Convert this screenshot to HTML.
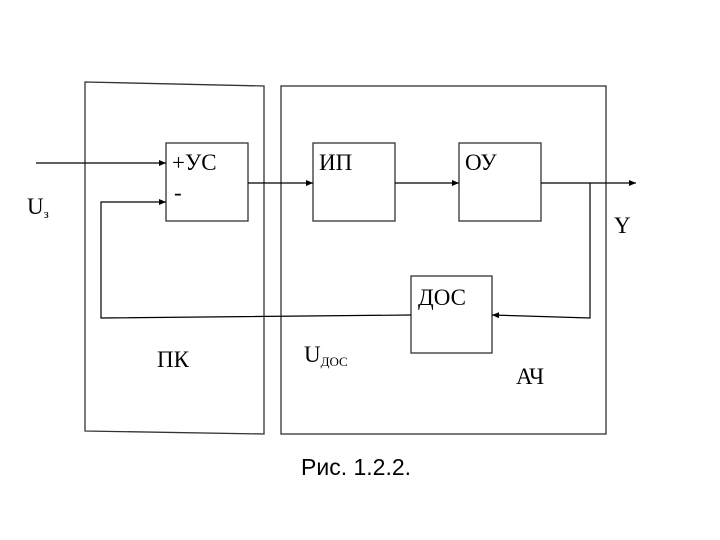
<!DOCTYPE html>
<html><head><meta charset="utf-8"><style>body{margin:0;background:#fff}svg{display:block}</style></head><body>
<svg width="720" height="540" xmlns="http://www.w3.org/2000/svg" font-family="Liberation Serif, serif">
<defs><marker id="a" markerWidth="8" markerHeight="6" refX="7" refY="3" orient="auto" markerUnits="userSpaceOnUse"><path d="M0,0 L7,3 L0,6z" fill="#000"/></marker></defs>
<g fill="none" stroke="#333" stroke-width="1.3">
<polygon points="85,82 264,86 264,434 85,431"/>
<rect x="281" y="86" width="325" height="348"/>
<rect x="166" y="143" width="82" height="78"/>
<rect x="313" y="143" width="82" height="78"/>
<rect x="459" y="143" width="82" height="78"/>
<rect x="411" y="276" width="81" height="77"/>
</g>
<g stroke="#000" stroke-width="1.2" fill="none">
<line x1="36" y1="163" x2="166" y2="163" marker-end="url(#a)"/>
<polyline points="411,315 101,318 101,202 166,202" marker-end="url(#a)"/>
<line x1="248" y1="183" x2="313" y2="183" marker-end="url(#a)"/>
<line x1="395" y1="183" x2="459" y2="183" marker-end="url(#a)"/>
<line x1="541" y1="183" x2="636" y2="183" marker-end="url(#a)"/>
<polyline points="590,183 590,318 492,315" marker-end="url(#a)"/>
</g>
<g font-size="23" fill="#000">
<text x="172" y="170">+УС</text>
<text x="174" y="200">-</text>
<text x="319" y="170">ИП</text>
<text x="465" y="170">ОУ</text>
<text x="418" y="305">ДОС</text>
<text x="27" y="214">U<tspan font-size="13" dy="4">з</tspan></text>
<text x="614" y="233">Y</text>
<text x="157" y="367">ПК</text>
<text x="304" y="362">U<tspan font-size="13" dy="4">ДОС</tspan></text>
<text x="516" y="384">АЧ</text>
</g>
<text x="301" y="475" font-family="Liberation Sans, sans-serif" font-size="23">Рис. 1.2.2.</text>
</svg>
</body></html>
